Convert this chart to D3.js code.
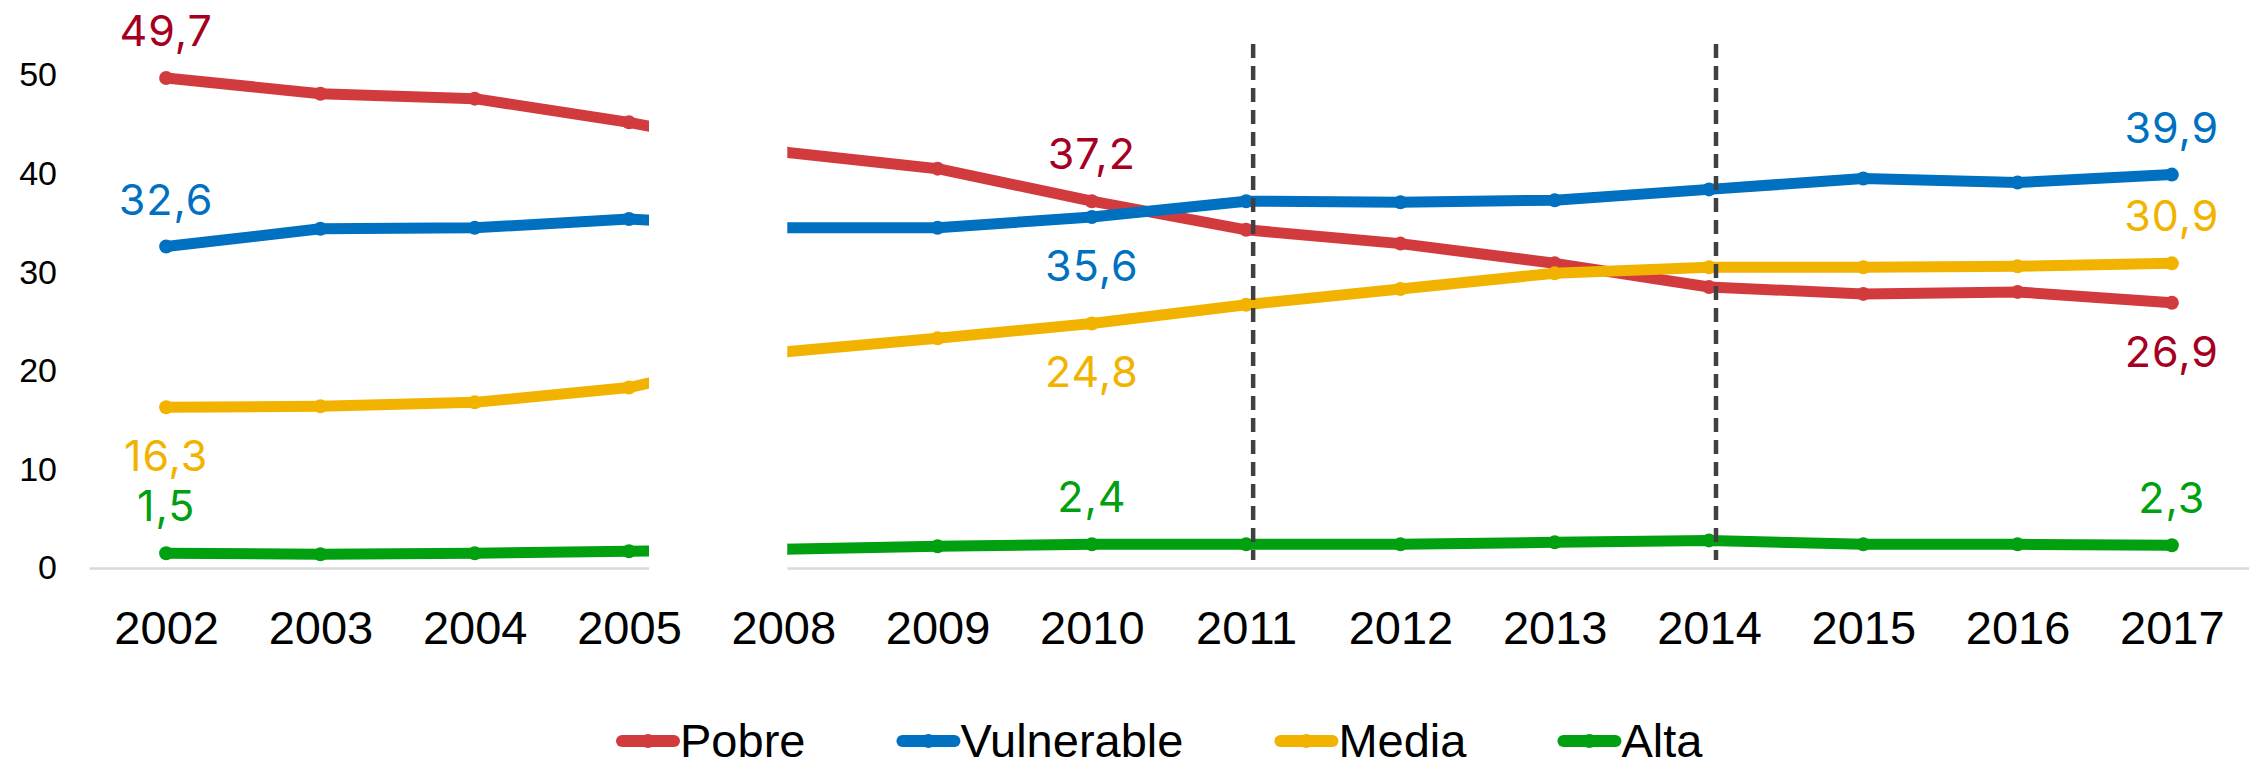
<!DOCTYPE html>
<html>
<head>
<meta charset="utf-8">
<script src="https://cdn.jsdelivr.net/npm/d3@7"></script>
<style>
	body { margin: 0; background: white; }
	.axis text { font-family: 'Liberation Sans', Arial, sans-serif; fill: black; }
</style>
</head>
<body>
<div id="chart"></div>
<script>
// data
var years = ['2002', '2003', '2004', '2005', '2008', '2009', '2010', '2011', '2012', '2013', '2014', '2015', '2016', '2017'];
var pobre = [49.7, 48.1, 47.6, 45.2, 42.2, 40.5, 37.2, 34.3, 32.9, 30.9, 28.5, 27.8, 28.0, 26.9];
var vulnerable = [32.6, 34.4, 34.5, 35.4, 34.5, 34.5, 35.6, 37.2, 37.1, 37.3, 38.4, 39.5, 39.1, 39.9];
var media = [16.3, 16.4, 16.8, 18.3, 21.9, 23.3, 24.8, 26.7, 28.3, 29.9, 30.5, 30.5, 30.6, 30.9];
var alta = [1.5, 1.4, 1.5, 1.7, 1.9, 2.2, 2.4, 2.4, 2.4, 2.6, 2.8, 2.4, 2.4, 2.3];
var y_ticks = [0, 10, 20, 30, 40, 50];
var dashed_years = ['2011', '2014'];
var labeled_years = ['2002', '2010', '2017'];

var series = [
	{name: 'Pobre', values: pobre, color: '#D23B3E', label_color: '#A50021', label_pos: ['up', 'up', 'down']},
	{name: 'Vulnerable', values: vulnerable, color: '#0070C0', label_color: '#0070C0', label_pos: ['up', 'down', 'up']},
	{name: 'Media', values: media, color: '#F2B300', label_color: '#F2B300', label_pos: ['down', 'down', 'up']},
	{name: 'Alta', values: alta, color: '#00A010', label_color: '#00A010', label_pos: ['up', 'up', 'up']}
];

var width = 2249;
var height = 760;

var svg = d3.select('#chart')
	.append('svg')
	.attr('width', width)
	.attr('height', height);

var x = d3.scalePoint()
	.domain(years)
	.range([89, 2249])
	.padding(0.5);

var y = d3.scaleLinear()
	.domain([0, 50])
	.range([568, 75]);

// x axis
var x_axis = svg.append('g')
	.attr('class', 'axis')
	.attr('transform', 'translate(0,' + y(0) + ')')
	.call(d3.axisBottom(x).tickSize(0).tickPadding(43));
x_axis.select('.domain')
	.attr('stroke', '#D9D9D9')
	.attr('stroke-width', 2.5);
x_axis.selectAll('text')
	.style('font-size', '47px');

// y axis
var y_axis = svg.append('g')
	.attr('class', 'axis')
	.attr('transform', 'translate(89,0)')
	.call(d3.axisLeft(y).tickValues(y_ticks).tickSize(0).tickPadding(32));
y_axis.select('.domain').remove();
y_axis.selectAll('text')
	.style('font-size', '34px');

// lines
var line = d3.line()
	.x(function(d, i) { return x(years[i]); })
	.y(function(d) { return y(d); });

series.forEach(function(s) {
	svg.append('path')
		.datum(s.values)
		.attr('d', line)
		.attr('fill', 'none')
		.attr('stroke', s.color)
		.attr('stroke-width', 11)
		.attr('stroke-linejoin', 'round');

	svg.append('g')
		.selectAll('circle')
		.data(s.values)
		.enter()
		.append('circle')
			.attr('cx', function(d, i) { return x(years[i]); })
			.attr('cy', function(d) { return y(d); })
			.attr('r', 7)
			.style('fill', s.color);
});

// break between 2005 and 2008
svg.append('rect')
	.attr('x', x('2005') + 20)
	.attr('y', 0)
	.attr('width', x('2008') - x('2005') - 16)
	.attr('height', y(0) + 6)
	.style('fill', 'white');

// dashed reference lines
svg.selectAll('.ref')
	.data(dashed_years)
	.enter()
	.append('line')
		.attr('class', 'ref')
		.attr('x1', function(d) { return x(d) + 7; })
		.attr('x2', function(d) { return x(d) + 7; })
		.attr('y1', 44)
		.attr('y2', 560)
		.attr('stroke', '#404040')
		.attr('stroke-width', 4.5)
		.attr('stroke-dasharray', '14,8');

// data labels
series.forEach(function(s) {
	labeled_years.forEach(function(yr, k) {
		var v = s.values[years.indexOf(yr)];
		svg.append('text')
			.attr('x', x(yr))
			.attr('y', y(v) + (s.label_pos[k] == 'up' ? -32 : 64))
			.attr('text-anchor', 'middle')
			.text(v.toFixed(1).replace('.', ','))
			.style('font-family', 'Inter, Lato, sans-serif')
			.style('font-size', '43px')
			.style('letter-spacing', '1px')
			.style('fill', s.label_color);
	});
});

// legend
var lx = 617;
series.forEach(function(s) {
	svg.append('line')
		.attr('x1', lx + 5)
		.attr('x2', lx + 57)
		.attr('y1', 741)
		.attr('y2', 741)
		.attr('stroke', s.color)
		.attr('stroke-width', 12)
		.attr('stroke-linecap', 'round');
	svg.append('circle')
		.attr('cx', lx + 31)
		.attr('cy', 741)
		.attr('r', 7)
		.style('fill', s.color);
	var t = svg.append('text')
		.attr('x', lx + 63)
		.attr('y', 757)
		.text(s.name)
		.style('font-family', "'Liberation Sans', Arial, sans-serif")
		.style('font-size', '47px')
		.style('fill', 'black');
	lx += 63 + t.node().getComputedTextLength() + 92;
});
</script>
</body>
</html>
